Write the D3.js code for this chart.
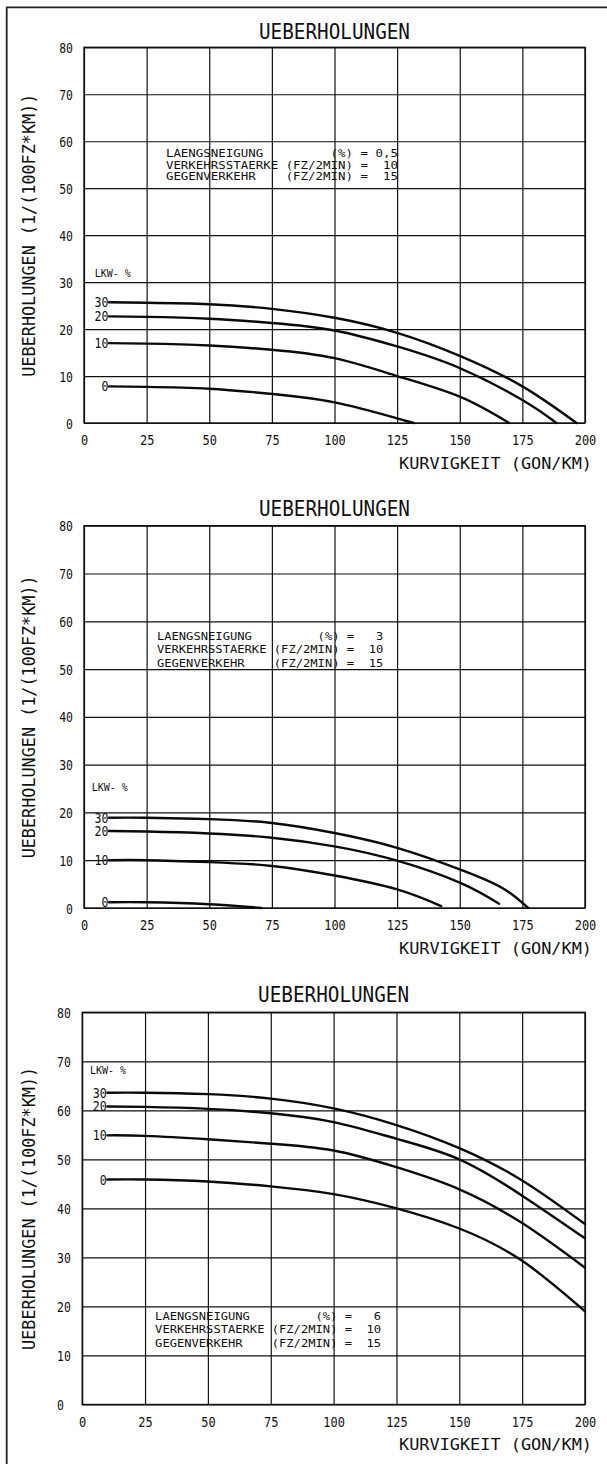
<!DOCTYPE html>
<html>
<head>
<meta charset="utf-8">
<script src="https://cdn.jsdelivr.net/npm/d3@7"></script>
<style>
  html, body { margin: 0; padding: 0; background: #fff; }
  svg { display: block; }
  text { font-family: "DejaVu Sans Mono", "Liberation Mono", monospace; fill: #111; white-space: pre; }
</style>
</head>
<body>
<svg id="chart" width="607" height="1464"></svg>
<script>
// Axis ticks shared by all three diagrams
const xTicks = [0, 25, 50, 75, 100, 125, 150, 175, 200];
const yTicks = [0, 10, 20, 30, 40, 50, 60, 70, 80];
const lkwShares = [30, 20, 10, 0];

const titleText = "UEBERHOLUNGEN";
const yTitleText = "UEBERHOLUNGEN (1/(100FZ*KM))";
const xTitleText = "KURVIGKEIT (GON/KM)";
const lkwText = "LKW- %";

// Fixed traffic parameters
const verkehrsstaerke = "10";
const gegenverkehr = "15";
const laengsneigung = ["0,5", "3", "6"];

// Laengsneigung 0,5 %: overtakings over curvature, per truck share
const slope05X = [
  [10, 25, 50, 75, 100, 125, 150, 175, 196.6],
  [10, 25, 50, 75, 100, 125, 150, 175, 188.6],
  [10, 25, 50, 75, 100, 125, 150, 169.7],
  [10, 25, 50, 75, 100, 125, 131.7]
];
const slope05Y = [
  [25.7, 25.6, 25.3, 24.3, 22.4, 19.2, 14.3, 7.8, 0],
  [22.7, 22.6, 22.2, 21.3, 19.7, 16.3, 11.7, 4.9, 0],
  [17.0, 16.9, 16.5, 15.6, 13.8, 10.0, 5.6, 0],
  [7.8, 7.7, 7.3, 6.2, 4.4, 1.0, 0]
];

// Laengsneigung 3 %
const slope3X = [
  [10, 25, 50, 75, 100, 125, 150, 167, 177.3],
  [10, 25, 50, 75, 100, 125, 150, 165.7],
  [10, 25, 50, 75, 100, 125, 142.6],
  [10, 25, 50, 70.8]
];
const slope3Y = [
  [18.9, 18.9, 18.6, 17.8, 15.7, 12.6, 8.1, 4.2, 0],
  [16.1, 16.0, 15.6, 14.7, 12.9, 9.9, 5.3, 0.9],
  [10.0, 10.0, 9.6, 8.8, 6.8, 3.9, 0.4],
  [1.2, 1.2, 0.8, 0]
];

// Laengsneigung 6 %
const slope6X = [
  [10, 25, 50, 75, 100, 125, 150, 175, 200],
  [10, 25, 50, 75, 100, 125, 150, 175, 200],
  [10, 25, 50, 75, 100, 125, 150, 175, 200],
  [10, 25, 50, 75, 100, 125, 150, 175, 200]
];
const slope6Y = [
  [63.6, 63.6, 63.3, 62.4, 60.4, 57.0, 52.3, 45.7, 36.8],
  [60.8, 60.7, 60.3, 59.4, 57.6, 54.2, 50.0, 42.6, 33.9],
  [54.9, 54.8, 54.1, 53.2, 51.8, 48.4, 43.9, 37.0, 27.9],
  [45.9, 45.9, 45.5, 44.5, 42.9, 40.0, 35.9, 29.3, 19.0]
];

// Layout of the three stacked diagrams
const panels = [
  { top: 47.3, bottom: 423, left: 84, right: 585, titleY: 39.4, xs: slope05X, ys: slope05Y,
    slope: laengsneigung[0], note: [32.7, 57.4], noteStep: 11.5, noteW: 232, lkw: [4.3, 31.9], yAnchor: "end" },
  { top: 525.7, bottom: 908, left: 84, right: 585, titleY: 515.5, xs: slope3X, ys: slope3Y,
    slope: laengsneigung[1], note: [29.1, 57.0], noteStep: 13.5, noteW: 226.5, lkw: [3.1, 25.4], yAnchor: "end" },
  { top: 1012.3, bottom: 1404.5, left: 82.2, right: 585, titleY: 1001.8, xs: slope6X, ys: slope6Y,
    slope: laengsneigung[2], note: [29.0, 18.1], noteStep: 13.5, noteW: 226, lkw: [3.1, 68.2], yAnchor: "start" }
];

const svg = d3.select("#chart");

// Outer frame (top and left edges of the sheet)
svg.append("path")
  .attr("d", "M6.7,1464 L6.7,7.3 L607,7.3")
  .attr("fill", "none").attr("stroke", "#222").attr("stroke-width", 1.8);

function fitText(sel, len) {
  return sel.attr("textLength", len).attr("lengthAdjust", "spacingAndGlyphs");
}

function pad(s, n) { return (" ".repeat(n) + s).slice(-n); }

panels.forEach(p => {
  const x = d3.scaleLinear().domain([0, 200]).range([p.left, p.right]);
  const y = d3.scaleLinear().domain([0, 80]).range([p.bottom, p.top]);
  const w = p.right - p.left, h = p.bottom - p.top;
  const g = svg.append("g");

  // Title
  fitText(g.append("text")
    .attr("x", (p.left + p.right) / 2).attr("y", p.titleY)
    .attr("text-anchor", "middle").attr("font-size", 21)
    .text(titleText), 151);

  // Vertical grid + x tick labels
  const gx = g.append("g").attr("transform", `translate(0,${p.bottom})`)
    .call(d3.axisBottom(x).tickValues(xTicks).tickSize(-h).tickFormat(d3.format("d")));
  gx.select(".domain").remove();
  gx.selectAll(".tick line").attr("stroke", "#111").attr("stroke-width", 1.2);
  gx.selectAll(".tick text")
    .attr("y", 22).attr("dy", null)
    .attr("font-size", 14).attr("fill", "#111")
    .attr("font-family", "DejaVu Sans Mono, monospace")
    .each(function(d) { fitText(d3.select(this), String(d).length * 7.2); });

  // Horizontal grid + y tick labels
  const gy = g.append("g").attr("transform", `translate(${p.left},0)`)
    .call(d3.axisLeft(y).tickValues(yTicks).tickSize(-w).tickFormat(d3.format("d")));
  gy.select(".domain").remove();
  gy.selectAll(".tick line").attr("stroke", "#111").attr("stroke-width", 1.2);
  gy.selectAll(".tick text")
    .attr("x", p.yAnchor === "end" ? -11 : -(p.left - 57))
    .attr("text-anchor", p.yAnchor)
    .attr("dy", "0.36em")
    .attr("font-size", 14).attr("fill", "#111")
    .attr("font-family", "DejaVu Sans Mono, monospace")
    .each(function(d) { fitText(d3.select(this), String(d).length * 6.9); });

  // Plot frame
  g.append("rect").attr("x", p.left).attr("y", p.top).attr("width", w).attr("height", h)
    .attr("fill", "none").attr("stroke", "#111").attr("stroke-width", 1.4);

  // Axis titles
  const yMid = (p.top + p.bottom) / 2;
  fitText(g.append("text")
    .attr("transform", `translate(34.7,${yMid}) rotate(-90)`)
    .attr("text-anchor", "middle").attr("font-size", 17)
    .text(yTitleText), 283);
  fitText(g.append("text")
    .attr("x", 592).attr("y", p.bottom + 45.5)
    .attr("text-anchor", "end").attr("font-size", 15)
    .text(xTitleText), 193);

  // Curves per truck share
  const line = d3.line().x(d => x(d[0])).y(d => y(d[1])).curve(d3.curveNatural);
  lkwShares.forEach((share, i) => {
    const pts = p.xs[i].map((v, k) => [v, p.ys[i][k]]);
    g.append("path").attr("d", line(pts))
      .attr("fill", "none").attr("stroke", "#0a0a0a").attr("stroke-width", 2.4)
      .attr("stroke-linecap", "round");
    const lab = String(share);
    fitText(g.append("text")
      .attr("x", x(pts[0][0]) - 0.5).attr("y", y(pts[0][1]))
      .attr("dy", "0.36em").attr("text-anchor", "end").attr("font-size", 14)
      .text(lab), lab.length * 7);
  });

  // Truck share caption
  fitText(g.append("text")
    .attr("x", x(p.lkw[0])).attr("y", y(p.lkw[1]) + 4)
    .attr("font-size", 11)
    .text(lkwText), 36);

  // Parameter block
  const rows = [
    "LAENGSNEIGUNG         (%) = " + pad(p.slope, 3),
    "VERKEHRSSTAERKE (FZ/2MIN) = " + pad(verkehrsstaerke, 3),
    "GEGENVERKEHR    (FZ/2MIN) = " + pad(gegenverkehr, 3)
  ];
  rows.forEach((r, k) => {
    fitText(g.append("text")
      .attr("x", x(p.note[0])).attr("y", y(p.note[1]) + 4 + k * p.noteStep)
      .attr("font-size", 11)
      .text(r), p.noteW);
  });
});
</script>
</body>
</html>
